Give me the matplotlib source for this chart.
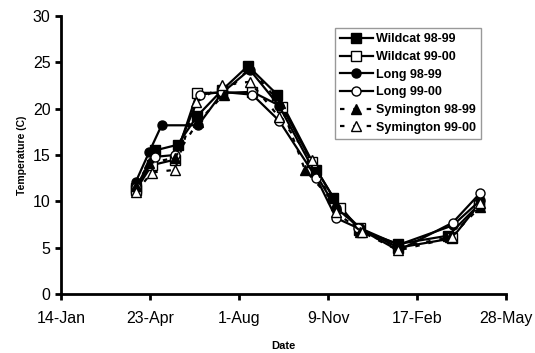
import matplotlib.pyplot as plt

plt.rcParams['font.family'] = ['Liberation Sans', 'DejaVu Sans']

# x values are days after 14-Jan
tick_days = [0, 100, 200, 300, 400, 500]
tick_labels = ['14-Jan', '23-Apr', '1-Aug', '9-Nov', '17-Feb', '28-May']

wc98_day = [84, 106, 131, 153, 181, 210, 243, 287, 306, 335, 379, 435, 469]
wc98_temp = [11.4, 15.5, 16.1, 19.2, 22.0, 24.6, 21.5, 13.4, 10.4, 6.9, 5.4, 6.3, 9.6]

wc99_day = [84, 102, 128, 153, 181, 215, 248, 282, 313, 336, 379, 439, 469]
wc99_temp = [11.2, 13.9, 14.5, 21.7, 21.7, 21.8, 20.2, 14.2, 9.3, 7.1, 5.0, 6.0, 9.6]

long98_day = [84, 99, 113, 154, 181, 212, 245, 287, 309, 336, 379, 440, 471]
long98_temp = [12.1, 15.3, 18.2, 18.2, 21.7, 24.2, 20.3, 12.8, 9.3, 7.1, 5.3, 7.4, 10.1]

long99_day = [84, 106, 128, 156, 181, 215, 245, 287, 309, 334, 379, 440, 471]
long99_temp = [11.5, 14.8, 15.0, 21.5, 21.8, 21.5, 18.7, 12.5, 8.2, 7.1, 4.7, 7.7, 10.9]

sym98_day = [84, 99, 128, 154, 183, 212, 246, 274, 309, 336, 379, 437, 471]
sym98_temp = [11.7, 14.1, 14.7, 18.6, 21.5, 24.4, 20.6, 13.4, 9.6, 6.7, 5.1, 6.1, 9.4]

sym99_day = [84, 102, 128, 152, 181, 212, 245, 282, 309, 338, 379, 439, 471]
sym99_temp = [11.0, 13.1, 13.4, 20.7, 22.5, 22.9, 19.1, 14.5, 8.8, 6.7, 4.7, 6.1, 9.8]

fig = plt.figure(figsize=(5.35, 3.53), dpi=100)
ax = fig.add_axes([0.114, 0.167, 0.832, 0.788])

ms = 6.5
ax.plot(wc98_day, wc98_temp, '-', color='black', lw=1.6, marker='s', ms=ms,
        mfc='black', mec='black', label='Wildcat 98-99')
ax.plot(wc99_day, wc99_temp, '-', color='black', lw=1.6, marker='s', ms=ms,
        mfc='white', mec='black', label='Wildcat 99-00')
ax.plot(long98_day, long98_temp, '-', color='black', lw=1.6, marker='o', ms=ms,
        mfc='black', mec='black', label='Long 98-99')
ax.plot(long99_day, long99_temp, '-', color='black', lw=1.6, marker='o', ms=ms,
        mfc='white', mec='black', label='Long 99-00')
ax.plot(sym98_day, sym98_temp, '--', color='black', lw=1.6, marker='^', ms=ms,
        mfc='black', mec='black', dashes=(2, 4), label='Symington 98-99')
ax.plot(sym99_day, sym99_temp, '--', color='black', lw=1.6, marker='^', ms=ms,
        mfc='white', mec='black', dashes=(2, 4), label='Symington 99-00')

ax.set_xlim(0, 500)
ax.set_ylim(0, 30)
ax.set_xticks(tick_days)
ax.set_xticklabels(tick_labels)
ax.set_yticks([0, 5, 10, 15, 20, 25, 30])
ax.tick_params(labelsize=11.5, width=2, length=4, direction='out')
ax.tick_params(axis='x', pad=8)
ax.spines['top'].set_visible(False)
ax.spines['right'].set_visible(False)
ax.spines['left'].set_linewidth(2)
ax.spines['bottom'].set_linewidth(2)

ax.set_xlabel('Date', fontsize=8, fontweight='bold', labelpad=11)
ax.set_ylabel('Temperature (C)', fontsize=7.5, fontweight='bold', labelpad=4)

leg = ax.legend(loc='upper left', bbox_to_anchor=(0.616, 0.955), prop={'size': 9, 'weight': 'bold'},
                frameon=True, fancybox=False, edgecolor='gray', handlelength=2.6,
                handletextpad=0.3, borderpad=0.4, labelspacing=0.45, borderaxespad=0)
leg.get_frame().set_linewidth(1)

fig.savefig('out.png', dpi=100)
